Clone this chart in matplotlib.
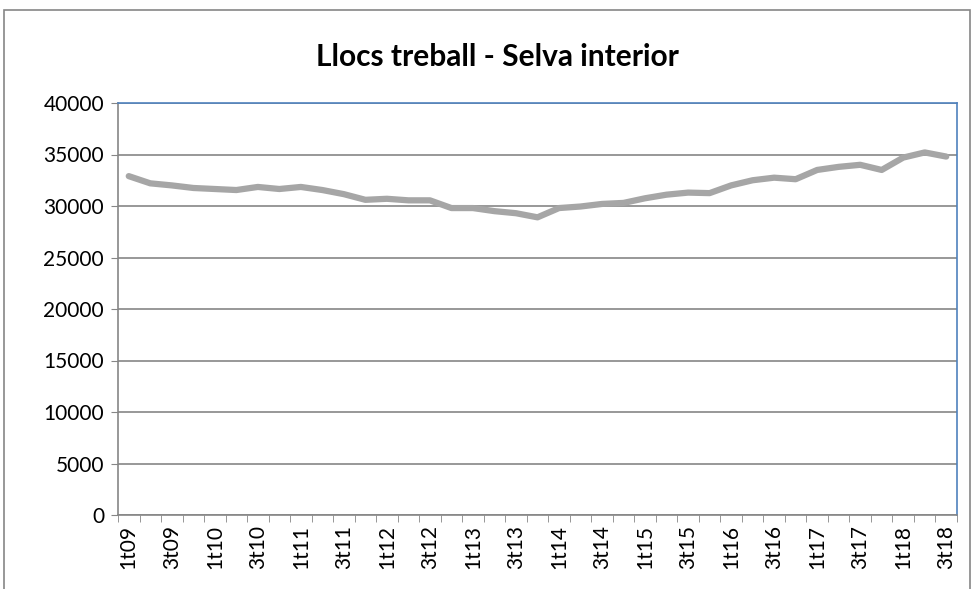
import matplotlib
matplotlib.use("Agg")
import matplotlib.pyplot as plt
from matplotlib.patches import Rectangle
import numpy as np

plt.rcParams['font.family'] = ['Lato', 'DejaVu Sans']

quarters = [f"{q}t{y:02d}" for y in range(9, 19) for q in range(1, 5)][:39]
values = [32900, 32200, 32000, 31750, 31650, 31550, 31850, 31650, 31850, 31550,
          31150, 30600, 30700, 30550, 30550, 29800, 29800, 29500, 29300, 28900,
          29800, 29950, 30200, 30300, 30750, 31100, 31300, 31250, 32000, 32500,
          32750, 32600, 33500, 33800, 34000, 33500, 34700, 35200, 34800]
yticks = [0, 5000, 10000, 15000, 20000, 25000, 30000, 35000, 40000]
title = "Llocs treball - Selva interior"

W, H = 977, 589
fig = plt.figure(figsize=(W / 100, H / 100), dpi=100)
fig.patches.append(Rectangle((4 / W, -0.1), (970 - 4) / W, 1 - 10 / H + 0.1,
                             transform=fig.transFigure, fill=False,
                             edgecolor='#868686', linewidth=1.2))
ax = fig.add_axes([118 / W, 1 - 515 / H, (957 - 118) / W, (515 - 103) / H])

x = np.arange(len(values))
ax.plot(x, values, color='#A6A6A6', linewidth=4.5, solid_capstyle='round', zorder=3)

ax.set_xlim(-0.5, len(values) - 0.5)
ax.set_ylim(0, 40000)
ax.set_yticks(yticks)
ax.set_yticklabels([str(v) for v in yticks], fontsize=15)
ax.yaxis.grid(True, color='#868686', linewidth=1.2)
ax.set_axisbelow(True)

ax.set_xticks(x[::2])
ax.set_xticklabels(quarters[::2], rotation=90, fontsize=15)
ax.set_xticks(np.arange(-0.5, len(values)), minor=True)
ax.tick_params(axis='x', which='major', length=0, pad=7)
ax.tick_params(axis='x', which='minor', length=5, color='#868686')
ax.tick_params(axis='y', length=5, color='#868686', pad=5)

for side in ['top', 'right']:
    ax.spines[side].set_color('#4F81BD')
    ax.spines[side].set_linewidth(1.2)
for side in ['left', 'bottom']:
    ax.spines[side].set_color('#868686')
    ax.spines[side].set_linewidth(1.2)

fig.text(497 / W, 1 - 57 / H, title, ha='center', va='center',
         fontsize=21.5, fontweight='bold')

fig.savefig("out.png", dpi=100)
